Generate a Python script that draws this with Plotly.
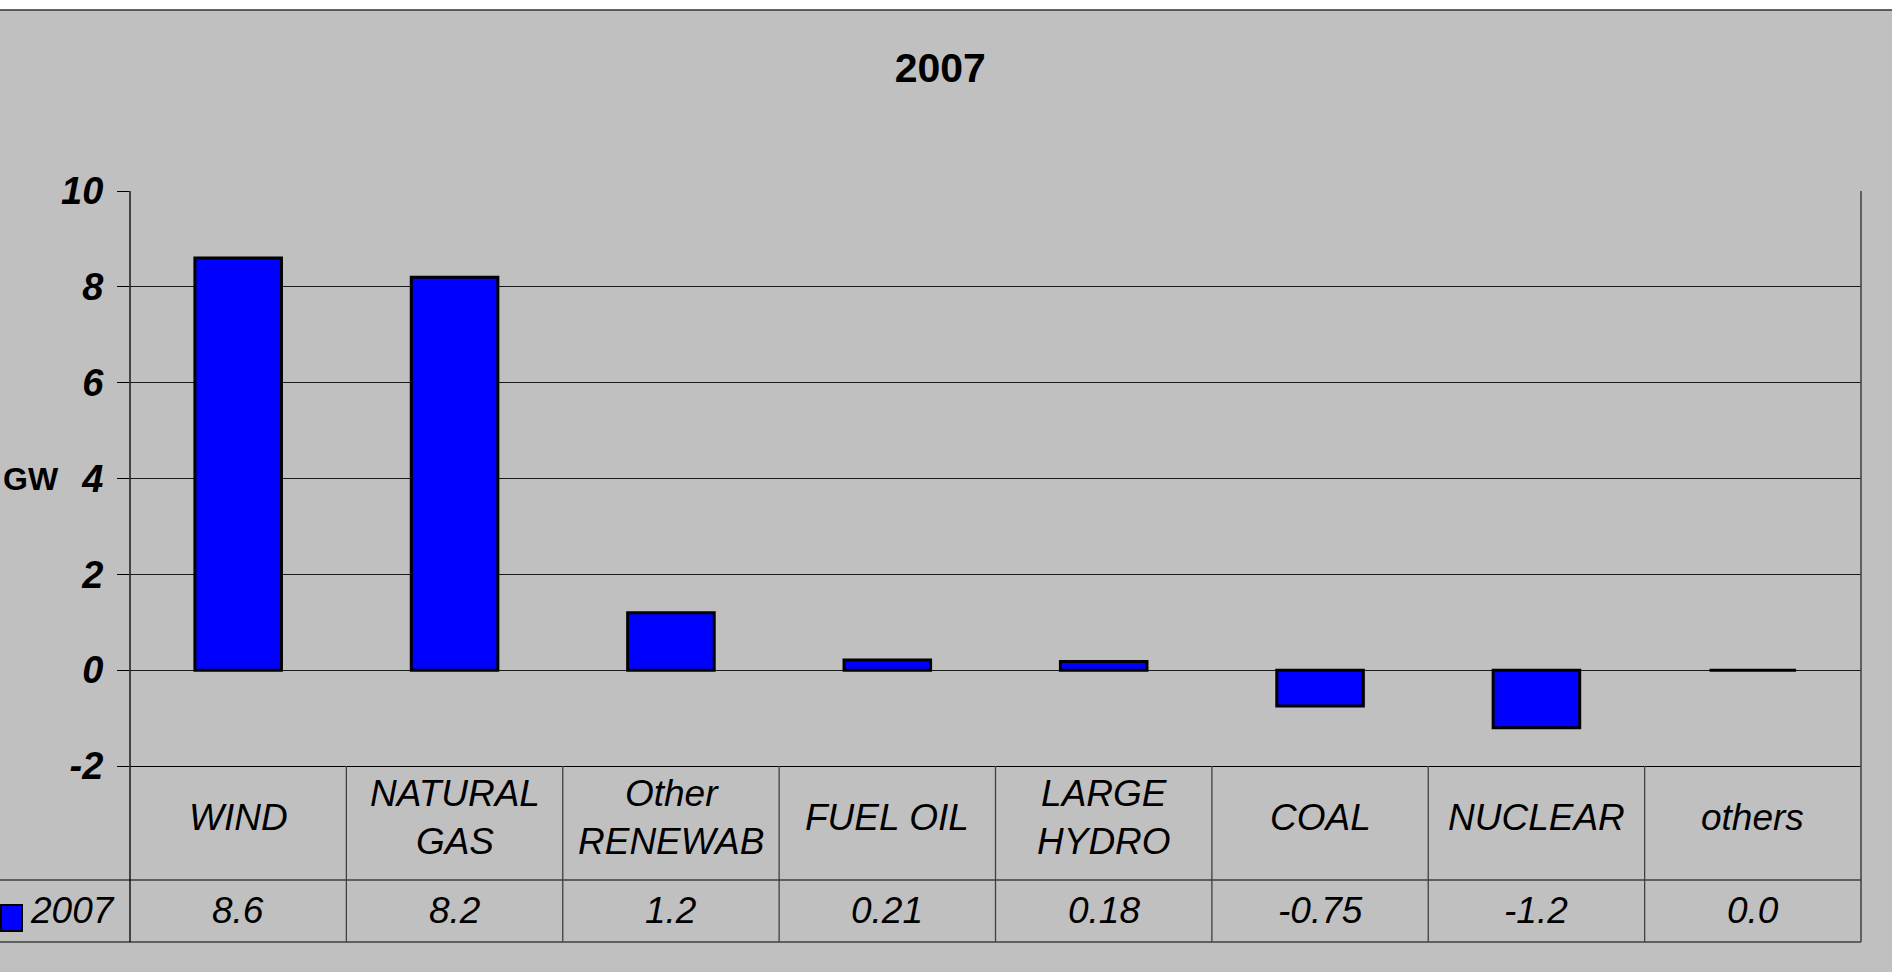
import plotly.graph_objects as go

# Net change in installed capacity by source, 2007 (GW)
categories = ["WIND", "NATURAL<br>GAS", "Other<br>RENEWAB", "FUEL OIL",
              "LARGE<br>HYDRO", "COAL", "NUCLEAR", "others"]
values_2007 = [8.6, 8.2, 1.2, 0.21, 0.18, -0.75, -1.2, 0.0]
series_name = "2007"
y_ticks = [-2, 0, 2, 4, 6, 8, 10]
y_tick_text = ["-2", "0", "2", "4", "6", "8", "10"]

W, H = 1892, 972
M_L, M_R, M_T, M_B = 130, 31, 191, 206
PLOT_W = W - M_L - M_R
PLOT_H = H - M_T - M_B

FONT = "Liberation Sans, Arial, sans-serif"
GRAY_BG = "#C0C0C0"
TABLE_LINE = "#404040"


def py(px_from_top):
    """Paper y coordinate for a pixel row of the page."""
    return (H - M_B - px_from_top) / PLOT_H


def px_x(px_from_left):
    """Paper x coordinate for a pixel column of the page."""
    return (px_from_left - M_L) / PLOT_W


def fmt(v):
    return "0.0" if v == 0 else f"{v:.2g}"


fig = go.Figure()
fig.add_trace(go.Bar(
    x=list(range(len(categories))),
    y=values_2007,
    name=series_name,
    marker=dict(color="#0000FF", line=dict(color="#000000", width=3)),
    showlegend=False,
    hoverinfo="skip",
))

# data-table rows under the axis
row1_top, row1_bot, row2_bot = H - M_B, 880, 942
shapes = []
line_style = dict(color=TABLE_LINE, width=1.3)
for yy in (row1_bot, row2_bot):
    shapes.append(dict(type="line", xref="paper", yref="paper",
                       x0=px_x(0), x1=1, y0=py(yy), y1=py(yy), line=line_style))
for i in range(len(categories) - 1):
    shapes.append(dict(type="line", xref="x", yref="paper",
                       x0=i + 0.5, x1=i + 0.5, y0=0, y1=py(row2_bot), line=line_style))
# left and right borders of the plot/table block
shapes.append(dict(type="line", xref="paper", yref="paper",
                   x0=0, x1=0, y0=1, y1=py(row2_bot),
                   line=dict(color="#000000", width=1.3)))
shapes.append(dict(type="line", xref="paper", yref="paper",
                   x0=1, x1=1, y0=1, y1=py(row2_bot),
                   line=dict(color=TABLE_LINE, width=1.5)))
# legend key in the table
shapes.append(dict(type="rect", xref="paper", yref="paper",
                   x0=px_x(1), x1=px_x(22), y0=py(905), y1=py(931),
                   fillcolor="#0000FF", line=dict(color="#000000", width=2)))
# white strip and border line along the top
shapes.append(dict(type="rect", xref="paper", yref="paper",
                   x0=px_x(-5), x1=px_x(W + 5), y0=py(10), y1=py(-5),
                   fillcolor="#FFFFFF", line=dict(width=0)))
shapes.append(dict(type="line", xref="paper", yref="paper",
                   x0=px_x(0), x1=px_x(W), y0=py(10), y1=py(10),
                   line=dict(color="#333333", width=1.5)))

annotations = []
cell_font = dict(family=FONT, size=37, color="#000000", style="italic")
for i, (cat, v) in enumerate(zip(categories, values_2007)):
    annotations.append(dict(x=i, xref="x", y=py((row1_top + row1_bot) / 2 - 6), yref="paper",
                            text=cat, showarrow=False, font=cell_font,
                            xanchor="center", yanchor="middle"))
    annotations.append(dict(x=i, xref="x", y=py((row1_bot + row2_bot) / 2), yref="paper",
                            text=fmt(v), showarrow=False, font=cell_font,
                            xanchor="center", yanchor="middle"))
annotations.append(dict(x=px_x(72), xref="paper", y=py((row1_bot + row2_bot) / 2), yref="paper",
                        text=series_name, showarrow=False, font=cell_font,
                        xanchor="center", yanchor="middle"))
# axis title
annotations.append(dict(x=px_x(1), xref="paper", y=0.5, yref="paper",
                        text="GW", showarrow=False,
                        font=dict(family=FONT, size=32, color="#000000", weight="bold"),
                        xanchor="left", yanchor="middle"))

fig.update_layout(
    width=W, height=H,
    margin=dict(l=M_L, r=M_R, t=M_T, b=M_B, pad=0),
    paper_bgcolor=GRAY_BG,
    plot_bgcolor=GRAY_BG,
    bargap=0.6,
    title=dict(text="<b>2007</b>", x=0.497, xref="container", xanchor="center",
               y=1 - 68 / H, yref="container", yanchor="middle",
               font=dict(family=FONT, size=41, color="#000000")),
    xaxis=dict(range=[-0.5, len(categories) - 0.5], showticklabels=False,
               showgrid=False, zeroline=False, ticks="",
               showline=True, linecolor="#000000", linewidth=1.3),
    yaxis=dict(range=[-2, 10], tickvals=y_ticks, ticktext=y_tick_text,
               ticks="outside", ticklen=12,
               tickcolor="#000000", tickwidth=1.3,
               showgrid=True, gridcolor="#1a1a1a", gridwidth=1.3,
               zeroline=False, showline=False, ticklabelstandoff=6,
               tickfont=dict(family=FONT, size=38, color="#000000",
                             weight="bold", style="italic")),
    shapes=shapes,
    annotations=annotations,
)

fig.write_html("out.html")
